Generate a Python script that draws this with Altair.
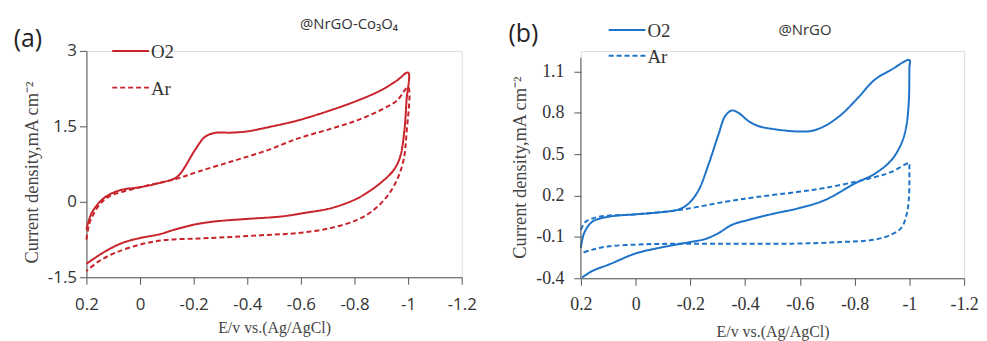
import altair as alt
import pandas as pd

# ---------------- data ----------------
# Panel (a) @NrGO-Co3O4
a_o2_v = [0.2, 0.19, 0.178, 0.15, 0.116, 0.067, 0.0, -0.069, -0.131, -0.15, -0.168, -0.205, -0.242, -0.279, -0.34, -0.4, -0.467,
          -0.59, -0.711, -0.81, -0.896, -0.958, -1.0,
          -0.994, -0.985, -0.97, -0.946, -0.896, -0.835, -0.8, -0.714, -0.615, -0.53, -0.4, -0.28, -0.205,
          -0.131, -0.069, 0.0, 0.067, 0.128, 0.2]
a_o2_j = [-0.55, -0.35, -0.20, 0.0, 0.14, 0.24, 0.29, 0.37, 0.47, 0.56, 0.70, 1.03, 1.29, 1.37, 1.375, 1.40, 1.47,
          1.62, 1.82, 2.01, 2.21, 2.41, 2.57,
          2.01, 1.36, 0.89, 0.63, 0.37, 0.14, 0.04, -0.125, -0.22, -0.29, -0.34, -0.39, -0.45,
          -0.55, -0.65, -0.72, -0.82, -0.98, -1.23]
a_ar_v = [0.2, 0.19, 0.178, 0.15, 0.116, 0.0, -0.131, -0.217, -0.34, -0.467, -0.59, -0.711, -0.81, -0.896, -0.958, -1.0,
          -0.994, -0.983, -0.958, -0.921, -0.872, -0.81, -0.711, -0.59, -0.467, -0.34, -0.217, -0.094,
          0.0, 0.091, 0.153, 0.2]
a_ar_j = [-0.75, -0.45, -0.29, -0.05, 0.105, 0.29, 0.45, 0.60, 0.80, 1.01, 1.26, 1.45, 1.62, 1.82, 2.01, 2.28,
          1.36, 0.83, 0.43, 0.105, -0.16, -0.36, -0.52, -0.62, -0.66, -0.70, -0.73, -0.76,
          -0.85, -1.01, -1.18, -1.375]

# Panel (b) @NrGO
b_o2_v = [0.2, 0.188, 0.158, 0.097, 0.0, -0.085, -0.158, -0.194, -0.23, -0.267, -0.303, -0.327, -0.352,
          -0.376, -0.412, -0.448, -0.509, -0.594, -0.642, -0.691, -0.752, -0.812, -0.873, -0.933, -1.0,
          -1.0, -0.998, -0.988, -0.97, -0.933, -0.873, -0.8, -0.691, -0.594, -0.509, -0.412, -0.352,
          -0.303, -0.255, -0.194, -0.085, 0.0, 0.097, 0.158, 0.196]
b_o2_j = [-0.18, -0.072, 0.011, 0.047, 0.064, 0.078, 0.10, 0.143, 0.239, 0.43, 0.645, 0.777, 0.818,
          0.80, 0.741, 0.705, 0.681, 0.665, 0.669, 0.705, 0.789, 0.909, 1.04, 1.112, 1.184,
          1.124, 0.885, 0.693, 0.574, 0.454, 0.358, 0.287, 0.167, 0.107, 0.071, 0.023, -0.012,
          -0.072, -0.115, -0.139, -0.18, -0.22, -0.30, -0.347, -0.395]
b_ar_v = [0.2, 0.182, 0.133, 0.0, -0.158, -0.327, -0.448, -0.594, -0.691, -0.8, -0.873, -0.933, -1.0,
          -1.0, -0.998, -0.988, -0.97, -0.933, -0.873, -0.752, -0.57, -0.327, -0.085, 0.0, 0.097, 0.158, 0.2]
b_ar_j = [-0.048, 0.011, 0.047, 0.064, 0.095, 0.155, 0.191, 0.227, 0.255, 0.299, 0.334, 0.37, 0.435,
          0.406, 0.167, 0.047, -0.036, -0.084, -0.12, -0.137, -0.149, -0.149, -0.151, -0.156, -0.168, -0.192, -0.22]

series = ["O2", "Ar"]
x_ticks = [0.2, 0.0, -0.2, -0.4, -0.6, -0.8, -1.0, -1.2]
a_y_ticks = [-1.5, 0, 1.5, 3]
b_y_ticks = [-0.4, -0.1, 0.2, 0.5, 0.8, 1.1]

RED = "#c8232b"
BLUE = "#1e73c8"
SANS = "Open Sans"
SERIF = "Liberation Serif"


def frame(v, j, name):
    return pd.DataFrame({"V": v, "J": j, "gas": name, "i": range(len(v))})


df_a = pd.concat([frame(a_o2_v, a_o2_j, "O2"), frame(a_ar_v, a_ar_j, "Ar")])
df_b = pd.concat([frame(b_o2_v, b_o2_j, "O2"), frame(b_ar_v, b_ar_j, "Ar")])

label_expr = "'' + datum.value"


def panel(df, color, y_dom, y_ticks, lab_font, lab_size, w, h, leg_x, leg_y0, leg_gap, tag, note,
          note_x, note_y, tag_x, tag_y, xlp, xtp, ylp, ytp, yty, y_axis_domain=True, y_axis_top=None):
    x = alt.X("V:Q", scale=alt.Scale(domain=[-1.2, 0.2], reverse=True, nice=False, zero=False),
              axis=alt.Axis(values=x_ticks, labelExpr=label_expr, title="E/v vs.(Ag/AgCl)",
                            grid=False, tickSize=7, labelPadding=xlp, labelFont=lab_font,
                            labelFontSize=lab_size, labelColor="#333333", titleFont=SERIF,
                            titleFontSize=16, titleFontWeight="normal", titleColor="#444444",
                            titlePadding=xtp, domainColor="#555555", tickColor="#555555",
                            labelFlush=False, labelOverlap=False))
    y = alt.Y("J:Q", scale=alt.Scale(domain=y_dom, nice=False, zero=False),
              axis=alt.Axis(values=y_ticks, labelExpr=label_expr, title="Current density,mA cm⁻²",
                            grid=False, tickSize=7, labelPadding=ylp, labelFont=lab_font,
                            labelFontSize=lab_size, labelColor="#333333", titleFont=SERIF,
                            titleFontSize=18.5, titleFontWeight="normal", titleColor="#444444",
                            titlePadding=ytp, titleY=yty, domain=y_axis_domain, domainColor="#555555",
                            tickColor="#555555", labelFlush=False, labelOverlap=False))
    lines = alt.Chart(df).mark_line(color=color, strokeWidth=2, interpolate="catmull-rom").encode(
        x=x, y=y, order="i:Q",
        strokeDash=alt.StrokeDash("gas:N", scale=alt.Scale(domain=series, range=[[1, 0], [5, 3]]),
                                  legend=None),
    )
    layers = [lines]
    if y_axis_top is not None:
        axis_line = alt.Chart(pd.DataFrame({"a": [0]})).mark_rule(color="#555555", strokeWidth=1).encode(
            x=alt.datum(0.2), y=alt.datum(y_dom[0]), y2=alt.datum(y_axis_top))
        layers.append(axis_line)
    # legend (manual, in pixel space of the panel)
    for k, (name, dash) in enumerate([("O2", [1, 0]), ("Ar", [5, 3])]):
        yy = leg_y0 + k * leg_gap
        sym = alt.Chart(pd.DataFrame({"a": [0]})).mark_rule(color=color, strokeWidth=2,
                                                           strokeDash=dash).encode(
            x=alt.value(leg_x), x2=alt.value(leg_x + 37), y=alt.value(yy))
        lab = alt.Chart(pd.DataFrame({"t": [name]})).mark_text(
            font=SERIF, fontSize=19, color="#333333", align="left", baseline="middle").encode(
            text="t:N", x=alt.value(leg_x + 39), y=alt.value(yy + 1))
        layers += [sym, lab]
    tag_txt = alt.Chart(pd.DataFrame({"t": [tag]})).mark_text(
        font=SANS, fontSize=25, color="#222222", align="center", baseline="middle").encode(
        text="t:N", x=alt.value(tag_x), y=alt.value(tag_y))
    note_txt = alt.Chart(pd.DataFrame({"t": [note]})).mark_text(
        font=SANS, fontSize=15, color="#333333", align="left", baseline="middle").encode(
        text="t:N", x=alt.value(note_x), y=alt.value(note_y))
    layers += [tag_txt, note_txt]
    return alt.layer(*layers).properties(width=w, height=h)


pa = panel(df_a, RED, [-1.5, 3], a_y_ticks, SANS, 17, 378, 228, 26, 0, 37, "(a)", "@NrGO-Co₃O₄",
           215, -27, -59, -12, xlp=12, xtp=8, ylp=3, ytp=6, yty=122)
pb = panel(df_b, BLUE, [-0.4, 1.25], b_y_ticks, SERIF, 18, 386, 229, 28, -21, 26, "(b)", "@NrGO",
           199, -21, -58, -17, xlp=10, xtp=11, ylp=10, ytp=6, yty=117,
           y_axis_domain=False, y_axis_top=1.2)

chart = alt.hconcat(pa, pb, spacing=120, bounds="flush").configure_view(
    stroke=None).configure(padding={"left": 5, "top": 7, "right": 0, "bottom": 0})

chart.save("out.html", embed_options={"renderer": "svg", "actions": False})
